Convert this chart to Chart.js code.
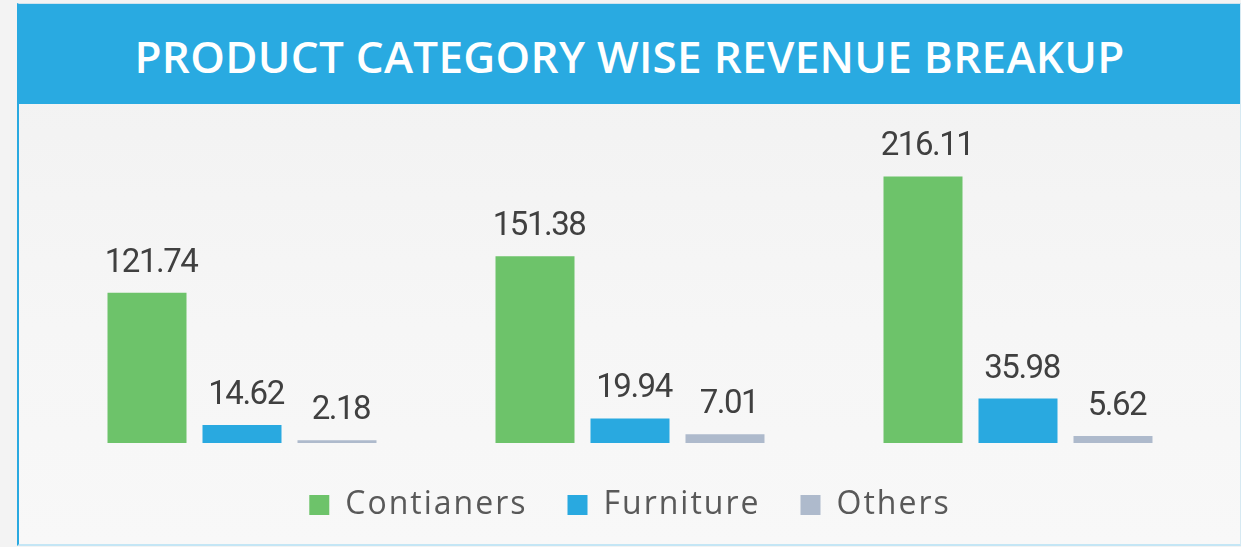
<!DOCTYPE html>
<html>
<head>
<meta charset="utf-8">
<script src="https://cdn.jsdelivr.net/npm/chart.js@4.4.0/dist/chart.umd.min.js"></script>
<style>
    html, body { margin: 0; padding: 0; }
    body { width: 1241px; height: 547px; background: #f3f3f3; overflow: hidden; position: relative; font-family: "Open Sans", sans-serif; }
    .panel {
        position: absolute; left: 17px; top: 3px; width: 1221px; height: 540px;
        border-left: 2px solid #29a9e0; border-right: 1px solid #d6e9f2;
        border-top: 1px solid #cfe3ee; border-bottom: 2px solid #c4e6f5;
        background: linear-gradient(to bottom, #f1f1f1 0%, #f6f6f6 60%, #f8f8f8 100%);
        overflow: hidden;
    }
    .header {
        height: 100px; background: #29aae1; color: #fff;
        font-size: 44px; font-weight: 600; text-align: center; line-height: 104px;
        letter-spacing: 0.3px;
    }
    .chart-box { position: absolute; left: 0; top: 100px; width: 1220px; height: 460px; }
</style>
</head>
<body>
<div class="panel">
    <div class="header">PRODUCT CATEGORY WISE REVENUE BREAKUP</div>
    <div class="chart-box"><canvas id="revenueChart"></canvas></div>
</div>
<script>
const categories = ['Group A', 'Group B', 'Group C'];
const containers = [121.74, 151.38, 216.11];
const furniture = [14.62, 19.94, 35.98];
const others = [2.18, 7.01, 5.62];

const LEGEND_SPACING = '2px';

// widens the legend lettering while it is measured and drawn
const legendSpacing = {
    id: 'legendSpacing',
    beforeLayout(chart) { chart.ctx.letterSpacing = LEGEND_SPACING; },
    afterLayout(chart) { chart.ctx.letterSpacing = '0px'; },
    beforeDraw(chart) { chart.ctx.letterSpacing = LEGEND_SPACING; },
    beforeDatasetsDraw(chart) { chart.ctx.letterSpacing = '0px'; }
};

// writes each bar's value just above it
const valueLabels = {
    id: 'valueLabels',
    afterDatasetsDraw(chart) {
        const ctx = chart.ctx;
        ctx.save();
        ctx.font = '400 33px Roboto, sans-serif';
        ctx.letterSpacing = '-1.5px';
        ctx.fillStyle = '#404040';
        ctx.textAlign = 'center';
        ctx.textBaseline = 'alphabetic';
        chart.data.datasets.forEach((ds, i) => {
            chart.getDatasetMeta(i).data.forEach((bar, j) => {
                ctx.fillText(ds.data[j].toFixed(2), bar.x + 4, bar.y - 21);
            });
        });
        ctx.restore();
    }
};

function initRevenueChart() {
    const ctx = document.getElementById('revenueChart');
    new Chart(ctx.getContext('2d'), {
        type: 'bar',
        data: {
            labels: categories,
            datasets: [
                { label: 'Contianers', data: containers, backgroundColor: '#6dc36a' },
                { label: 'Furniture', data: furniture, backgroundColor: '#29a9e0' },
                { label: 'Others', data: others, backgroundColor: '#aebacc' }
            ]
        },
        options: {
            responsive: true,
            maintainAspectRatio: false,
            animation: false,
            datasets: { bar: { categoryPercentage: 0.7345, barPercentage: 0.8316 } },
            layout: { padding: { left: 29, right: 27, top: 43, bottom: 33 } },
            plugins: {
                legend: {
                    position: 'bottom',
                    title: { display: true, text: ' ', font: { size: 5 }, padding: 0 },
                    labels: {
                        boxWidth: 20, boxHeight: 20, padding: 40,
                        color: '#595959',
                        font: { family: '"Open Sans", sans-serif', size: 32 }
                    }
                },
                tooltip: { enabled: false }
            },
            scales: {
                x: { display: false },
                y: { display: false, min: 0, max: 240 }
            }
        },
        plugins: [legendSpacing, valueLabels]
    });
}

initRevenueChart();
</script>
</body>
</html>
